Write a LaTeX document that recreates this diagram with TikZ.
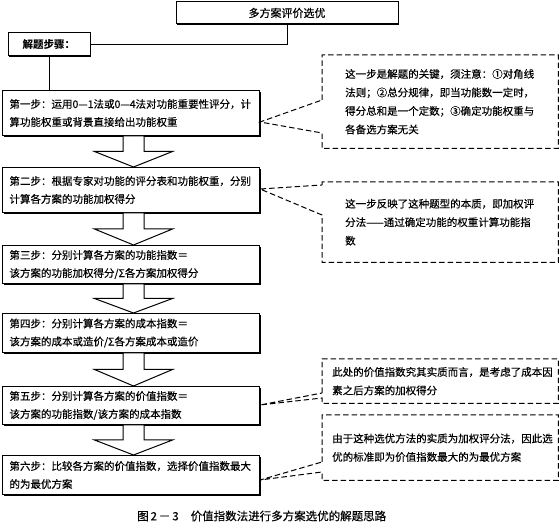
\documentclass[tikz,border=0pt]{standalone}
\usepackage{fontspec}
\setmainfont{Noto Sans CJK SC}[UprightFeatures={FakeBold=0.35}]
\usetikzlibrary{calc,shadows}
\begin{document}
\begin{tikzpicture}[x=1pt,y=-1pt,
  solidbox/.style={draw, line width=1pt, fill=white,
    drop shadow={shadow xshift=1.3pt, shadow yshift=-1.3pt, fill=black, opacity=1}},
  stepbox/.style={solidbox, anchor=north west, text width=243pt, inner xsep=7pt,
    inner ysep=2pt, align=left, font=\fontsize{10.5}{18}\selectfont},
  notebox/.style={anchor=north west, minimum width=236pt, inner xsep=0pt, inner ysep=0pt,
    align=left, font=\fontsize{10.5}{18.5}\selectfont},
  notedash/.style={line width=1pt, dash pattern=on 5.5pt off 3pt},
  barrow/.style={draw, line width=1pt, fill=white, line join=miter},
  conn/.style={line width=0.9pt}]
\useasboundingbox (0,0) rectangle (560,526);

% header boxes
\node[solidbox, minimum width=222pt, minimum height=22pt, inner sep=0pt,
  font=\fontsize{11}{11}\selectfont] (top) at (287,13) {多方案评价选优};
\node[solidbox, minimum width=82pt, minimum height=23pt, inner sep=0pt,
  font=\bfseries\fontsize{10.5}{10.5}\selectfont] (jt) at (49,44.5) {解题步骤：};

% steps
\node[stepbox, minimum height=45pt] (s1) at (2,90)
  {第一步：运用0—1法或0—4法对功能重要性评分，计\\算功能权重或背景直接给出功能权重};
\node[stepbox, minimum height=45pt] (s2) at (2,167)
  {第二步：根据专家对功能的评分表和功能权重，分别\\计算各方案的功能加权得分};
\node[stepbox, minimum height=38pt] (s3) at (2,245)
  {第三步：分别计算各方案的功能指数＝\\该方案的功能加权得分/Σ各方案加权得分};
\node[stepbox, minimum height=39pt] (s4) at (2,313)
  {第四步：分别计算各方案的成本指数＝\\该方案的成本或造价/Σ各方案成本或造价};
\node[stepbox, minimum height=38pt] (s5) at (2,386)
  {第五步：分别计算各方案的价值指数＝\\该方案的功能指数/该方案的成本指数};
\node[stepbox, minimum height=39pt] (s6) at (2,455)
  {第六步：比较各方案的价值指数，选择价值指数最大\\的为最优方案};

% connectors
\draw[conn] (jt.east) -| (top.south);
\draw[conn] (jt.south) -- (jt.south |- s1.north);

% block arrows
\foreach \a/\b in {s1/s2, s2/s3, s3/s4, s4/s5, s5/s6}{
  \coordinate (pa) at (\a.south);
  \coordinate (pb) at (\b.north);
  \draw[barrow] ($(pa)+(-8,0)$) -- ($(pa)+(13,0)$)
    -- ($(pa)!0.5!(pb)+(13,0)$) -- ($(pa)!0.5!(pb)+(41.5,0)$)
    -- ($(pb)+(2.5,0)$)
    -- ($(pa)!0.5!(pb)+(-36.5,0)$) -- ($(pa)!0.5!(pb)+(-8,0)$) -- cycle;
}

% notes
\node[notebox, minimum height=93pt, text width=190pt] (n1) at (322,55)
  {这一步是解题的关键，须注意：①对角线\\法则；②总分规律，即当功能数一定时，\\得分总和是一个定数；③确定功能权重与\\各备选方案无关};
\node[notebox, minimum height=80pt, text width=190pt] (n2) at (322,182)
  {这一步反映了这种题型的本质，即加权评\\分法——通过确定功能的权重计算功能指\\数};
\node[notebox, minimum height=44pt, text width=216pt] (n3) at (322,359)
  {此处的价值指数究其实质而言，是考虑了成本因\\素之后方案的加权得分};
\node[notebox, minimum height=65pt, text width=216pt] (n4) at (322,415)
  {由于这种选优方法的实质为加权评分法，因此选\\优的标准即为价值指数最大的为最优方案};

\coordinate (t1) at ($(s1.north east)+(0,32)$);
\coordinate (t2) at ($(s2.north east)+(0,22)$);
\coordinate (t3) at ($(s5.north east)+(0,19)$);
\coordinate (t4) at ($(s6.north east)+(0,25)$);

\draw[notedash] ($(n1.north west)+(0,45)$) -- (n1.north west) -- (n1.north east)
  -- (n1.south east) -- (n1.south west) -- ($(n1.north west)+(0,78)$) -- (t1) -- cycle;
\draw[notedash] ($(n2.north west)+(0,3)$) -- (n2.north west) -- (n2.north east)
  -- (n2.south east) -- (n2.south west) -- ($(n2.north west)+(0,33)$) -- (t2) -- cycle;
\draw[notedash] ($(n3.north west)+(0,34)$) -- (n3.north west) -- (n3.north east)
  -- (n3.south east) -- (n3.south west) -- ($(n3.north west)+(0,39)$) -- (t3) -- cycle;
\draw[notedash] ($(n4.north west)+(0,47)$) -- (n4.north west) -- (n4.north east)
  -- (n4.south east) -- (n4.south west) -- ($(n4.north west)+(0,57)$) -- (t4) -- cycle;

% caption
\node[font=\fontsize{11.5}{11.5}\selectfont, anchor=west, inner sep=0pt] (cap) at (137,516)
  {图\,2\,－\,3\hspace{12pt}价值指数法进行多方案选优的解题思路};
\end{tikzpicture}
\end{document}
